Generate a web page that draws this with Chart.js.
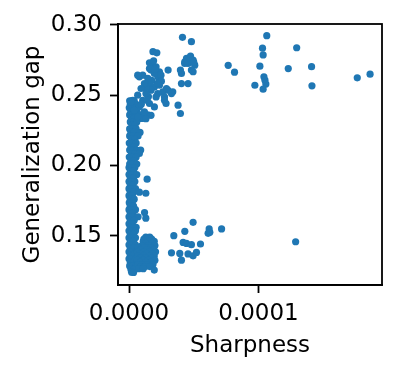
<!DOCTYPE html>
<html>
<head>
<meta charset="utf-8">
<script src="https://cdn.jsdelivr.net/npm/chart.js@4.4.0/dist/chart.umd.min.js"></script>
<style>
  html, body { margin: 0; padding: 0; background: #fff; }
</style>
</head>
<body>
<canvas id="myChart" width="399" height="374"></canvas>
<script>
// [sharpness, generalization gap], grouped by region
const stripe = [
  [0.05e-5,0.246],[0.2e-5,0.246],[0.4e-5,0.246],
  [0.1e-5,0.2435],[0.3e-5,0.2435],[0.55e-5,0.2435],
  [0.02e-5,0.241],[0.25e-5,0.241],[0.45e-5,0.241],
  [0.15e-5,0.2385],[0.35e-5,0.2385],[0.6e-5,0.2385],
  [0.05e-5,0.236],[0.3e-5,0.236],[0.5e-5,0.236],[0.9e-5,0.236],[1.2e-5,0.236],[1.45e-5,0.236],
  [0.2e-5,0.2335],[0.4e-5,0.2335],[0.75e-5,0.2335],[1.0e-5,0.2335],
  [0.1e-5,0.231],[0.35e-5,0.231],[0.6e-5,0.231],
  [0.25e-5,0.2285],[0.45e-5,0.2285],
  [0.05e-5,0.226],[0.3e-5,0.226],[0.55e-5,0.226],
  [0.15e-5,0.2235],[0.4e-5,0.2235],[0.85e-5,0.2235],
  [0.05e-5,0.221],[0.3e-5,0.221],[0.7e-5,0.221],
  [0.2e-5,0.2185],[0.45e-5,0.2185],
  [0.02e-5,0.216],[0.3e-5,0.216],[0.55e-5,0.216],
  [0.15e-5,0.2135],[0.4e-5,0.2135],
  [0.05e-5,0.211],[0.3e-5,0.211],[0.6e-5,0.211],[0.9e-5,0.211],
  [0.2e-5,0.2085],[0.45e-5,0.2085],[0.8e-5,0.2085],
  [0.02e-5,0.206],[0.3e-5,0.206],[0.55e-5,0.206],
  [0.15e-5,0.2035],[0.4e-5,0.2035],
  [0.05e-5,0.201],[0.3e-5,0.201],[0.6e-5,0.201],
  [0,0.1985],[0.2e-5,0.1985],[0.45e-5,0.1985],
  [0.1e-5,0.196],[0.35e-5,0.196],
  [0,0.1935],[0.25e-5,0.1935],[0.6e-5,0.1935],
  [0.1e-5,0.191],[0.35e-5,0.191],[1.4e-5,0.1902],
  [0,0.1885],[0.2e-5,0.1885],[0.45e-5,0.1885],
  [0.1e-5,0.186],[0.3e-5,0.186],
  [0,0.1835],[0.25e-5,0.1835],[0.5e-5,0.1835],
  [0.1e-5,0.181],[0.35e-5,0.181],[0.8e-5,0.181],[1.3e-5,0.1802],
  [0,0.1785],[0.25e-5,0.1785],
  [0.1e-5,0.176],[0.4e-5,0.176],
  [0.02e-5,0.1735],[0.25e-5,0.1735],
  [0.1e-5,0.171],[0.35e-5,0.171],
  [0,0.1685],[0.25e-5,0.1685],[0.5e-5,0.1685],
  [1.2e-5,0.1665],[0.1e-5,0.166],[0.3e-5,0.166],
  [1.3e-5,0.1625],[0,0.1635],[0.25e-5,0.1635],[0.7e-5,0.1635],
  [0.1e-5,0.161],[0.4e-5,0.161],
  [0,0.1585],[0.25e-5,0.1585],
  [0.1e-5,0.156],[0.35e-5,0.156],[0.55e-5,0.156],
  [0,0.1535],[0.25e-5,0.1535],[0.5e-5,0.1535],
  [0.1e-5,0.151],[0.35e-5,0.151],
  [0,0.1485],[0.25e-5,0.1485],[0.5e-5,0.1485],
  [0.1e-5,0.146],[0.35e-5,0.146],
  [0,0.1435],[0.25e-5,0.1435],[0.5e-5,0.1435],
  [0.1e-5,0.141],[0.35e-5,0.141],
  [0,0.1385],[0.25e-5,0.1385],[0.5e-5,0.1385],
  [0.1e-5,0.136],[0.35e-5,0.136],
  [0,0.1335],[0.25e-5,0.1335],[0.5e-5,0.1335],
  [0.1e-5,0.131],[0.35e-5,0.131],
  [0.05e-5,0.1285],[0.3e-5,0.1285],[0.55e-5,0.1285],
  [0.15e-5,0.126],[0.4e-5,0.126],
  [0.2e-5,0.124],[0.35e-5,0.1238]
];
const block = [
  [1.3e-5,0.149],[1.6e-5,0.149],
  [1.15e-5,0.1475],[1.45e-5,0.1475],[1.75e-5,0.1475],
  [1.1e-5,0.146],[1.6e-5,0.146],[1.95e-5,0.146],
  [1.3e-5,0.1445],[1.8e-5,0.1445],
  [1.0e-5,0.143],[1.5e-5,0.143],[2.0e-5,0.143],
  [0.7e-5,0.1415],[1.2e-5,0.1415],[1.7e-5,0.1415],
  [0.9e-5,0.14],[1.4e-5,0.14],[1.9e-5,0.14],
  [0.65e-5,0.1385],[1.15e-5,0.1385],[1.6e-5,0.1385],[2.05e-5,0.1385],
  [0.85e-5,0.137],[1.35e-5,0.137],[1.8e-5,0.137],
  [0.7e-5,0.1355],[1.1e-5,0.1355],[1.55e-5,0.1355],[1.95e-5,0.1355],
  [0.9e-5,0.134],[1.3e-5,0.134],[1.75e-5,0.134],
  [0.65e-5,0.1325],[1.1e-5,0.1325],[1.5e-5,0.1325],[2.0e-5,0.1325],
  [0.85e-5,0.131],[1.3e-5,0.131],[1.7e-5,0.131],
  [0.7e-5,0.1295],[1.05e-5,0.1295],[1.45e-5,0.1295],[1.85e-5,0.1295],
  [0.9e-5,0.128],[1.25e-5,0.128],[1.6e-5,0.128],
  [0.75e-5,0.1265],[1.1e-5,0.1265],[1.95e-5,0.1255]
];
const arm = [
  [1.58e-5,0.2731],[1.83e-5,0.2714],[1.7e-5,0.2679],[2.09e-5,0.2702],[2.35e-5,0.2667],
  [2.22e-5,0.2631],[2.47e-5,0.2643],[1.96e-5,0.2655],[1.58e-5,0.269],[1.9e-5,0.2745],
  [2.0e-5,0.2685],[1.85e-5,0.281],[2.15e-5,0.2802],[3.02e-5,0.2679],
  [0.8e-5,0.2631],[1.06e-5,0.2643],[0.67e-5,0.2643],
  [1.58e-5,0.2583],[1.96e-5,0.2559],[2.35e-5,0.2571],[2.61e-5,0.2524],[1.7e-5,0.2536],
  [2.22e-5,0.2512],[2.74e-5,0.2488],[2.09e-5,0.2488],[1.45e-5,0.262],[1.75e-5,0.2605],
  [2.5e-5,0.26],[2.2e-5,0.2585],[1.3e-5,0.2555],[1.5e-5,0.249],
  [3.0e-5,0.2536],[3.38e-5,0.2524],[2.89e-5,0.2548],[3.28e-5,0.2512],
  [2.74e-5,0.2464],[2.86e-5,0.2441],
  [1.19e-5,0.2583],[0.93e-5,0.2548],[1.31e-5,0.2512],[0.67e-5,0.25],[1.06e-5,0.2464],
  [0.29e-5,0.2464],[0.15e-5,0.2452],[1.58e-5,0.2441],[1.96e-5,0.2417],[0.8e-5,0.2417],
  [0.42e-5,0.2393],[1.19e-5,0.2381],[1.7e-5,0.2357],[0.67e-5,0.2345],[1.31e-5,0.2333],
  [0.95e-5,0.2435],[1.4e-5,0.2465]
];
const upperCluster = [
  [4.13e-5,0.2912],[4.82e-5,0.2881],
  [4.44e-5,0.2762],[4.75e-5,0.2779],[4.95e-5,0.275],[4.56e-5,0.2726],[5.08e-5,0.2714],
  [4.82e-5,0.2679],[4.31e-5,0.2738],[4.95e-5,0.2667],[4.65e-5,0.2745],[5.0e-5,0.2735],
  [4.3e-5,0.2726],[3.97e-5,0.2679],[4.05e-5,0.2655],
  [4.05e-5,0.2583],[4.56e-5,0.2583],
  [3.79e-5,0.2429],[3.97e-5,0.237]
];
const lowerCluster = [
  [4.95e-5,0.1595],[6.19e-5,0.1548],[6.11e-5,0.1517],[6.24e-5,0.1524],[7.15e-5,0.1548],
  [4.31e-5,0.1531],[3.46e-5,0.15],[4.18e-5,0.1452],[4.44e-5,0.1445],[4.82e-5,0.1436],
  [5.52e-5,0.1441],[3.92e-5,0.1374],[4.05e-5,0.1326],[4.56e-5,0.137],[4.95e-5,0.1357],
  [5.21e-5,0.1381],[3.28e-5,0.1378]
];
const outliers = [
  [10.64e-5,0.2924],[10.31e-5,0.2835],[10.36e-5,0.2787],[12.95e-5,0.2838],[10.11e-5,0.2707],
  [12.3e-5,0.269],[14.1e-5,0.2703],[10.42e-5,0.2631],[10.5e-5,0.2607],[10.57e-5,0.2579],
  [9.72e-5,0.2571],[10.36e-5,0.2543],[14.13e-5,0.2567],[17.63e-5,0.2624],[18.62e-5,0.265],
  [7.66e-5,0.2713],[8.15e-5,0.2664],[12.87e-5,0.1457]
];

const xTicks = [0, 0.0001];
const yTicks = [0.15, 0.20, 0.25, 0.30];

const points = []
  .concat(stripe, block, arm, upperCluster, lowerCluster, outliers)
  .map(p => ({ x: p[0], y: p[1] }));

const font = { family: "DejaVu Sans", size: 23 };

// matplotlib-like top/right spines
const frame = {
  id: "frame",
  afterDatasetsDraw(chart) {
    const a = chart.chartArea;
    const c = chart.ctx;
    c.save();
    c.strokeStyle = "#000";
    c.lineWidth = 1.8;
    c.strokeRect(a.left, a.top, a.right - a.left, a.bottom - a.top);
    c.restore();
  }
};

const ctx = document.getElementById("myChart");
const myChart = new Chart(ctx, {
  type: "scatter",
  data: {
    datasets: [
      {
        data: points,
        backgroundColor: "#1f77b4",
        borderWidth: 0,
        pointRadius: 3.6,
      },
    ],
  },
  options: {
    responsive: false,
    animation: false,
    plugins: { legend: { display: false }, tooltip: { enabled: false } },
    layout: { padding: { left: 0, right: 17, top: 24, bottom: 0 } },
    scales: {
      x: {
        type: "linear",
        min: -0.0000085,
        max: 0.0001954,
        afterBuildTicks: (s) => { s.ticks = xTicks.map((v) => ({ value: v })); },
        afterFit: (s) => { s.height = 89; },
        grid: { drawOnChartArea: false, tickLength: 8, tickWidth: 1.8, tickColor: "#000" },
        border: { color: "#000", width: 1.8 },
        ticks: { font: font, color: "#000", padding: 7, maxRotation: 0, callback: (v) => v.toFixed(4) },
        title: { display: true, text: "Sharpness", font: font, color: "#000", padding: { top: 0, bottom: 14 } },
      },
      y: {
        type: "linear",
        min: 0.1149,
        max: 0.3007,
        afterBuildTicks: (s) => { s.ticks = yTicks.map((v) => ({ value: v })); },
        afterFit: (s) => { s.width = 118; },
        grid: { drawOnChartArea: false, tickLength: 8, tickWidth: 1.8, tickColor: "#000" },
        border: { color: "#000", width: 1.8 },
        ticks: { font: font, color: "#000", padding: 8, callback: (v) => v.toFixed(2) },
        title: { display: true, text: "Generalization gap", font: font, color: "#000", padding: { top: 19, bottom: 0 } },
      },
    },
  },
  plugins: [frame],
});
</script>
</body>
</html>
